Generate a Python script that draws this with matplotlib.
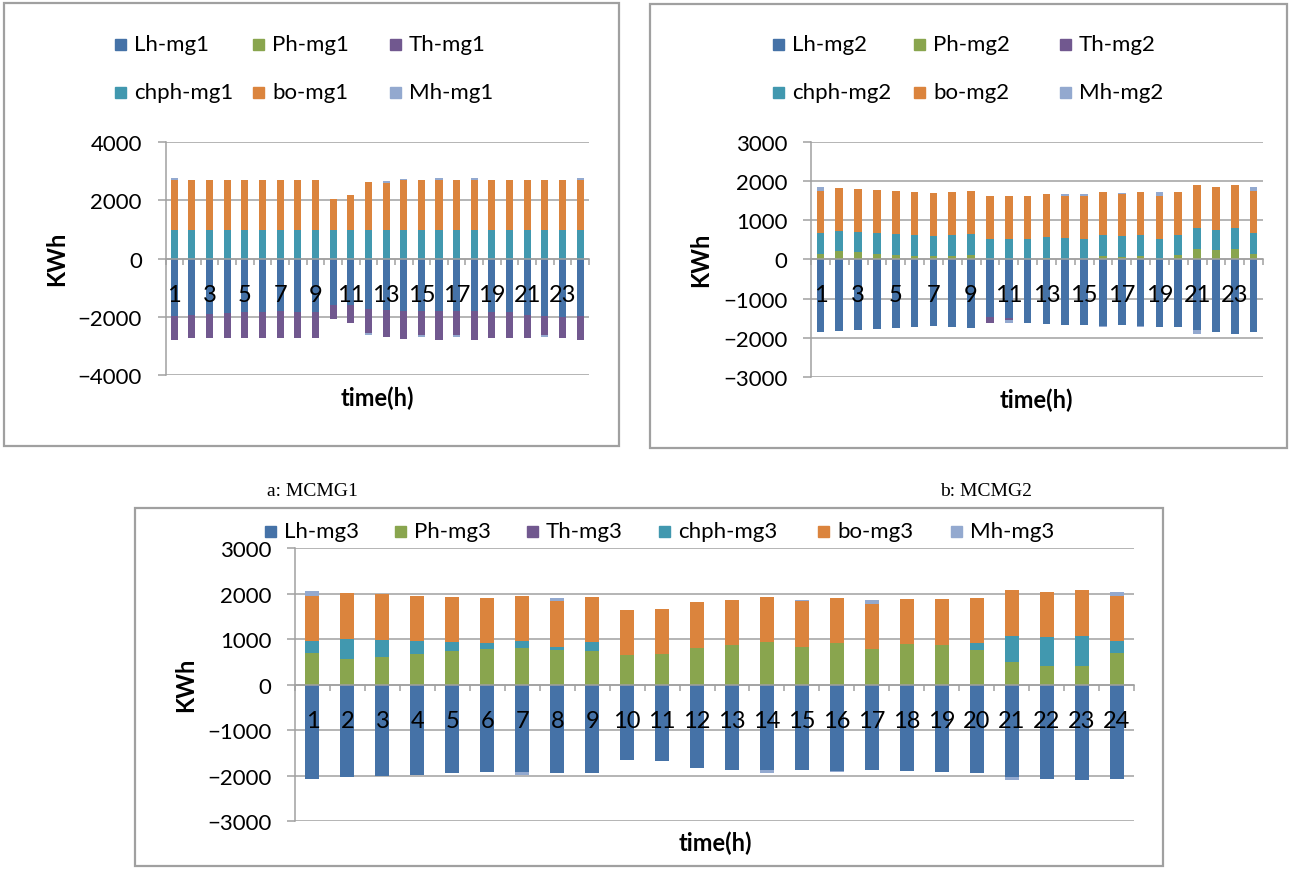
import numpy as np
import matplotlib
matplotlib.use("Agg")
import matplotlib.pyplot as plt
from matplotlib.patches import Rectangle

# ---- data (kWh per hour) ----
hours = list(range(1, 25))
series_names = ["Lh", "Ph", "Th", "chph", "bo", "Mh"]

lh_mg1 = [-1990, -1955, -1920, -1885, -1850, -1850, -1815, -1850, -1850, -1590, -1610, -1750,
          -1785, -1795, -1805, -1795, -1795, -1815, -1840, -1850, -1945, -1990, -2025, -1990]
ph_mg1 = [0, 0, 0, 0, 0, 0, 0, 0, 0, 0, 0, 0, 0, 0, 0, 0, 0, 0, 0, 0, 0, 0, 0, 0]
th_mg1 = [-810, -765, -800, -835, -870, -870, -905, -870, -870, -480, -595, -800,
          -900, -960, -825, -1005, -835, -985, -880, -870, -775, -640, -695, -810]
chph_mg1 = [990, 990, 990, 990, 990, 990, 990, 990, 990, 990, 990, 990,
            990, 990, 990, 990, 990, 990, 990, 990, 990, 990, 990, 990]
bo_mg1 = [1700, 1700, 1700, 1700, 1700, 1700, 1700, 1700, 1700, 1045, 1180, 1625,
          1605, 1700, 1700, 1700, 1700, 1700, 1700, 1700, 1700, 1700, 1700, 1700]
mh_mg1 = [90, 0, 0, 0, 0, 0, 0, 0, 0, 0, 0, -80, 70, 45, -80, 90, -80, 90, 0, 0, 0, -80, 0, 90]

lh_mg2 = [-1855, -1820, -1796, -1770, -1745, -1720, -1694, -1737, -1745, -1465, -1490, -1618,
          -1652, -1677, -1677, -1694, -1677, -1694, -1720, -1737, -1813, -1855, -1897, -1855]
ph_mg2 = [135, 203, 178, 135, 119, 93, 85, 93, 110, 0, 0, 0, 30, 0, 0, 93, 60, 93, 0, 100, 271, 237, 271, 135]
th_mg2 = [0, 0, 0, 0, 0, 0, 0, 0, 0, -153, -51, 0, 0, 0, 0, 0, 0, 0, 0, 0, 0, 0, 0, 0]
chph_mg2 = [525, 517, 517, 535, 525, 525, 508, 534, 534, 525, 525, 525,
            530, 542, 525, 525, 524, 525, 525, 527, 525, 517, 525, 525]
bo_mg2 = [1093, 1102, 1101, 1100, 1101, 1102, 1101, 1101, 1101, 1093, 1093, 1093,
          1100, 1084, 1093, 1102, 1093, 1102, 1093, 1101, 1101, 1101, 1101, 1093]
mh_mg2 = [100, 0, 0, 0, 0, 0, 0, 0, 0, 0, -77, 0, 0, 51, 59, -26, 15, -26, 102, 0, -84, 0, 0, 100]

lh_mg3 = [-2070, -2040, -2011, -1982, -1952, -1930, -1915, -1937, -1952, -1666, -1688, -1827,
          -1872, -1886, -1886, -1908, -1886, -1900, -1915, -1937, -2026, -2070, -2099, -2070]
ph_mg3 = [690, 558, 617, 675, 734, 785, 815, 763, 734, 646, 668, 807,
          866, 932, 822, 910, 778, 888, 881, 756, 492, 411, 411, 690]
th_mg3 = [0, 0, 0, 0, 0, 0, 0, 0, 0, 0, 0, 0, 0, 0, 0, 0, 0, 0, 0, 0, 0, 0, 0, 0]
chph_mg3 = [265, 455, 374, 279, 198, 125, 147, 59, 198, 0, 0, 0, 0, 0, 0, 0, 0, 0, 0, 154, 587, 631, 668, 265]
bo_mg3 = [1005, 1005, 998, 1006, 998, 998, 998, 1013, 998, 998, 998, 1006,
          991, 998, 1013, 998, 998, 1006, 998, 1006, 1013, 1006, 1006, 997]
mh_mg3 = [95, 0, 0, 0, 0, 0, -67, 80, 0, 0, 0, 0, 0, -66, 37, -20, 96, -10, 0, 0, -73, 0, 0, 96]

COLORS = ["#4572A7", "#89A54E", "#71588F", "#4198AF", "#DB843D", "#93A9CF"]
GRID = "#A0A0A0"
FONT = "Lato"
W, H = 1292, 870

plt.rcParams["font.family"] = [FONT, "DejaVu Sans"]


def rect(x0, y0, x1, y1):
    """Pixel box (top-left origin) -> figure fraction [l, b, w, h]."""
    return [x0 / W, 1 - y1 / H, (x1 - x0) / W, (y1 - y0) / H]


def stacked_bars(ax, values):
    pos = np.zeros(len(hours))
    neg = np.zeros(len(hours))
    for vals, color in zip(values, COLORS):
        v = np.asarray(vals, dtype=float)
        base = np.where(v >= 0, pos, neg)
        ax.bar(hours, v, 0.4, bottom=base, color=color, linewidth=0, zorder=2)
        pos += np.clip(v, 0, None)
        neg += np.clip(v, None, 0)


def style_axes(ax, ymax, step, label_hours):
    ax.set_xlim(0.5, 24.5)
    ax.set_ylim(-ymax, ymax)
    ax.set_yticks(np.arange(-ymax, ymax + 1, step))
    ax.grid(axis="y", color=GRID, linewidth=1.1)
    ax.spines["bottom"].set_position(("data", 0))
    ax.spines["top"].set_visible(False)
    ax.spines["right"].set_visible(False)
    for s in ("left", "bottom"):
        ax.spines[s].set_color(GRID)
        ax.spines[s].set_linewidth(1.1)
    ax.set_xticks(label_hours)
    ax.set_xticklabels([str(h) for h in label_hours])
    ax.set_xticks(np.arange(0.5, 25, 1), minor=True)
    ax.tick_params(axis="x", which="major", length=0, pad=18, labelsize=17)
    ax.tick_params(axis="x", which="minor", length=4, width=1.1, color=GRID, direction="out")
    ax.tick_params(axis="y", length=6, width=1.1, color=GRID, pad=11, labelsize=16)
    # gridlines behind the bars, hour labels in front of them
    ax.yaxis.set_zorder(0.5)
    ax.xaxis.set_zorder(3)


def draw_legend(fig, labels, xs, ys):
    for lab, color, x, y in zip(labels, COLORS, xs, ys):
        fig.patches.append(Rectangle((x / W, 1 - (y + 5.5) / H), 11 / W, 11 / H,
                                     transform=fig.transFigure, color=color))
        fig.text((x + 19) / W, 1 - y / H, lab, va="center", ha="left", fontsize=16)


def panel_box(fig, x0, y0, x1, y1):
    fig.patches.append(Rectangle((x0 / W, 1 - y1 / H), (x1 - x0) / W, (y1 - y0) / H,
                                 transform=fig.transFigure, fill=False,
                                 edgecolor=GRID, linewidth=1.6))


fig = plt.figure(figsize=(W / 100, H / 100), dpi=100)

odd_hours = hours[::2]

# a: MCMG1
panel_box(fig, 4, 4, 619, 447)
ax1 = fig.add_axes(rect(165.5, 143, 589, 376))
stacked_bars(ax1, [lh_mg1, ph_mg1, th_mg1, chph_mg1, bo_mg1, mh_mg1])
style_axes(ax1, 4000, 2000, odd_hours)
draw_legend(fig, [n + "-mg1" for n in series_names],
            [115, 253, 390, 115, 253, 390], [45, 45, 45, 93, 93, 93])
fig.text(57 / W, 1 - 259 / H, "KWh", rotation=90, fontsize=17, fontweight="bold",
         ha="center", va="center")
fig.text(377 / W, 1 - 398 / H, "time(h)", fontsize=17, fontweight="bold",
         ha="center", va="center")

# b: MCMG2
panel_box(fig, 650, 5, 1287, 449)
ax2 = fig.add_axes(rect(811, 142.7, 1263, 378))
stacked_bars(ax2, [lh_mg2, ph_mg2, th_mg2, chph_mg2, bo_mg2, mh_mg2])
style_axes(ax2, 3000, 1000, odd_hours)
draw_legend(fig, [n + "-mg2" for n in series_names],
            [773, 914, 1060, 773, 914, 1060], [45, 45, 45, 93, 93, 93])
fig.text(701 / W, 1 - 260 / H, "KWh", rotation=90, fontsize=17, fontweight="bold",
         ha="center", va="center")
fig.text(1036 / W, 1 - 400 / H, "time(h)", fontsize=17, fontweight="bold",
         ha="center", va="center")

# captions
fig.text(312 / W, 1 - 492 / H, "a: MCMG1", fontsize=14, family="Liberation Serif",
         ha="center", va="center")
fig.text(986 / W, 1 - 492 / H, "b: MCMG2", fontsize=14, family="Liberation Serif",
         ha="center", va="center")

# c: MCMG3
panel_box(fig, 135, 509, 1163, 867)
ax3 = fig.add_axes(rect(295, 549.3, 1134, 822))
stacked_bars(ax3, [lh_mg3, ph_mg3, th_mg3, chph_mg3, bo_mg3, mh_mg3])
style_axes(ax3, 3000, 1000, hours)
draw_legend(fig, [n + "-mg3" for n in series_names],
            [265, 395, 527, 659, 818, 951], [532] * 6)
fig.text(186 / W, 1 - 685 / H, "KWh", rotation=90, fontsize=17, fontweight="bold",
         ha="center", va="center")
fig.text(715 / W, 1 - 843 / H, "time(h)", fontsize=17, fontweight="bold",
         ha="center", va="center")

fig.savefig("out.png", dpi=100)
plt.close(fig)
